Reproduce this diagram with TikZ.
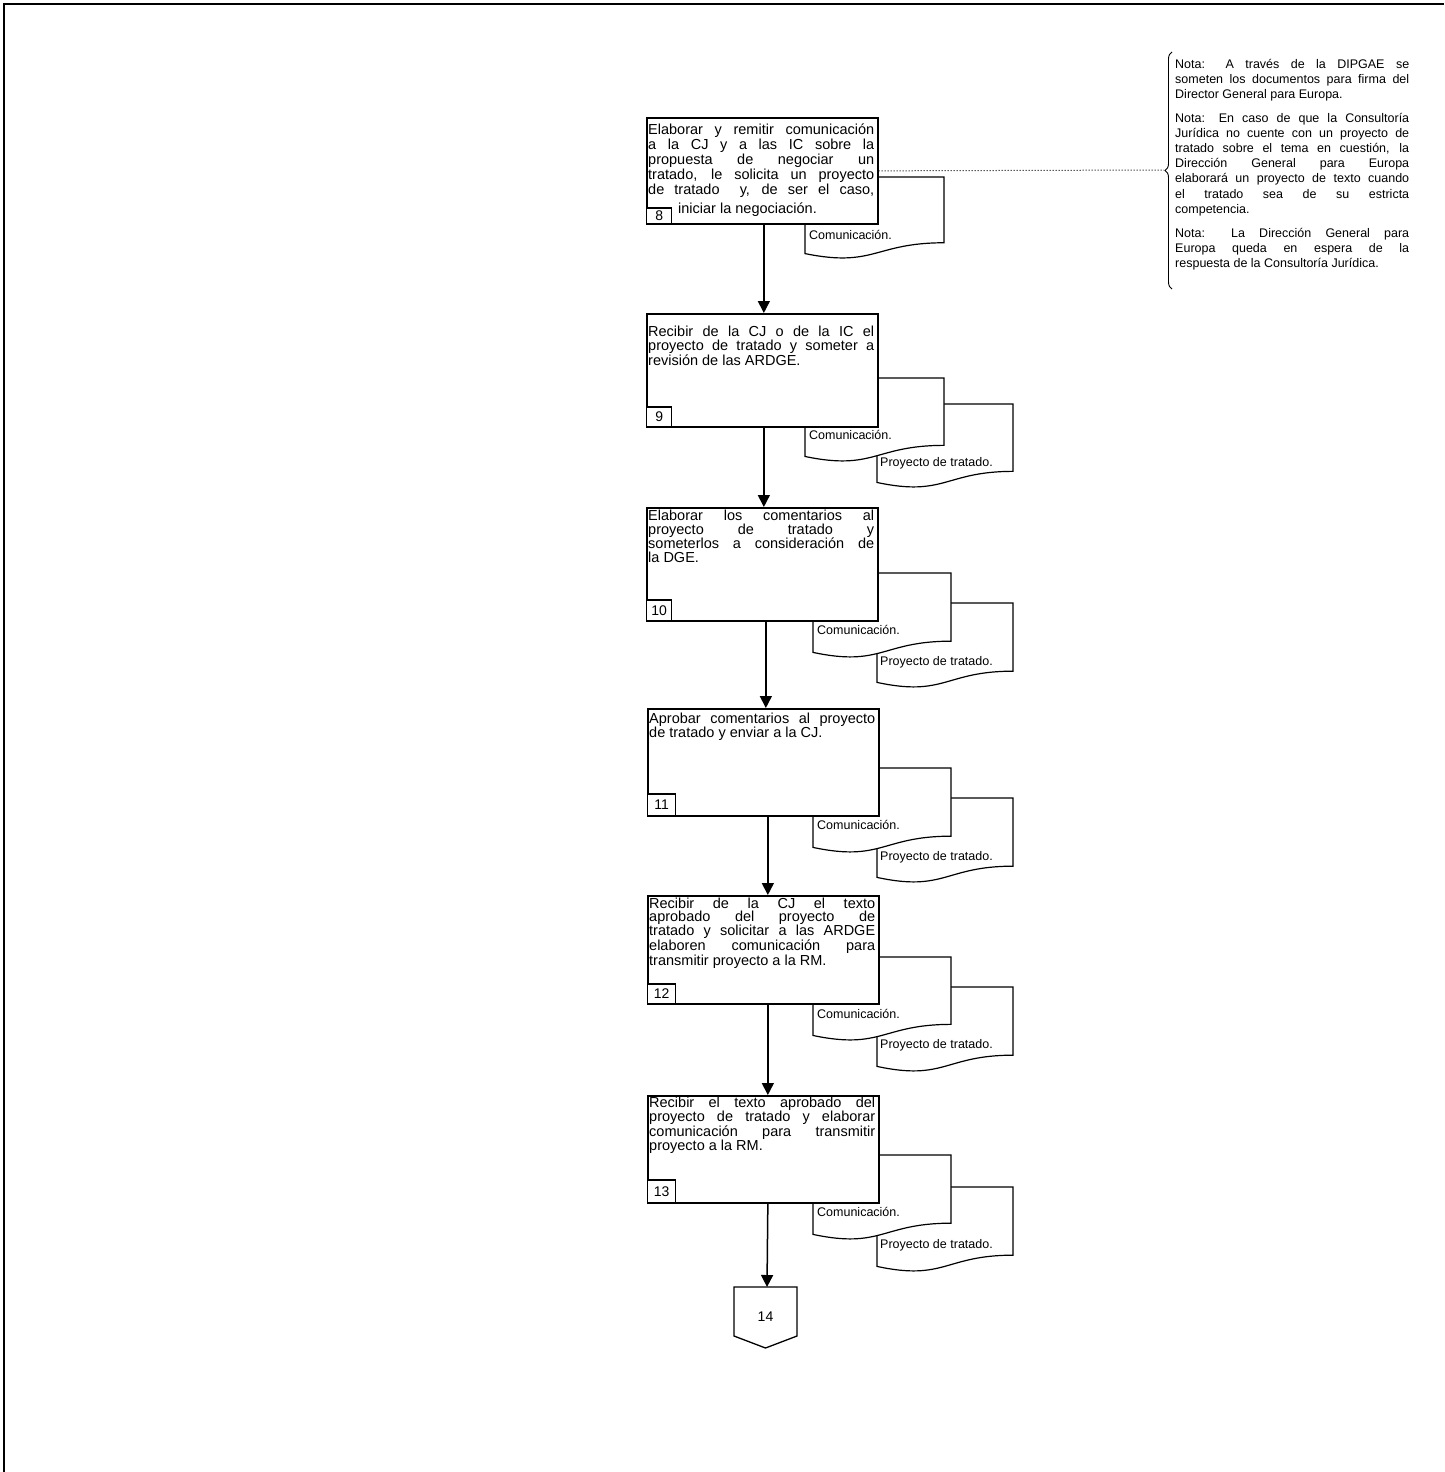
\documentclass[tikz,border=0pt]{standalone}
\usepackage{fontspec}
\setmainfont{Liberation Sans}
\usetikzlibrary{arrows.meta,decorations.pathreplacing}
\tikzset{
  frame/.style={line width=2.6pt},
  stepbox/.style={draw, line width=1.7pt, fill=white, anchor=north west, inner sep=0pt, minimum width=231pt},
  numbox/.style={draw, line width=1.4pt, fill=white, anchor=south west, inner sep=0pt, font=\fontsize{14}{14}\selectfont},
  boxtext/.style={anchor=base west, inner sep=0pt, text width=226pt, align=justify, font=\fontsize{14.5}{#1}\selectfont},
  doclabel/.style={anchor=base west, inner sep=0pt, font=\fontsize{12.5}{13}\selectfont},
  docline/.style={draw, line width=1.2pt, fill=white},
  arr/.style={line width=1.5pt, -{Triangle[width=12pt,length=12pt]}},
  pics/docshape/.style args={#1/#2}{code={
    \path[docline] (0,0) -- (#1,0) -- (#1,{0.802*#2})
      .. controls ({0.5*#1},{0.802*#2}) and ({0.5*#1},{1.107*#2}) .. (0,{0.934*#2}) -- cycle;
  }},
  notes/.style={anchor=base west, inner sep=0pt, text width=234pt, align=justify, font=\fontsize{12.5}{15.2}\selectfont},
}
\begin{document}
\begin{tikzpicture}[x=1pt,y=-1pt]
\useasboundingbox (0,0) rectangle (1444,1472);
\draw[frame] (1444,4) -- (4,4) -- (4,1472);

% ---------- step 8
\pic at (805,177) {docshape={139/82}};
\node[doclabel] (l8) at (809,239) {Comunicación.};
\node[stepbox, minimum height=106pt] (b8) at (646,117) {};
\node[boxtext=15pt] (t8) at (648,134) {\tolerance=10000 Elaborar y remitir comunicación\linebreak a la CJ y a las IC sobre la\linebreak propuesta de negociar un\linebreak tratado, le solicita un proyecto\linebreak de tratado \ y, de ser el caso,\vadjust{\vskip4pt}\linebreak\hspace*{30pt}iniciar la negociación.};
\node[numbox, minimum width=25pt, minimum height=16pt] (n8) at (b8.south west) {8};

% ---------- step 9
\pic at (877,404) {docshape={136/84}};
\node[doclabel] (l9b) at (880,466) {Proyecto de tratado.};
\pic at (805,378) {docshape={139/84}};
\node[doclabel] (l9a) at (809,439) {Comunicación.};
\node[stepbox, minimum height=113pt] (b9) at (646,313) {};
\node[boxtext=14.5pt] (t9) at (648,336) {\tolerance=10000 Recibir de la CJ o de la IC el\linebreak proyecto de tratado y someter a\linebreak revisión de las ARDGE.};
\node[numbox, minimum width=25pt, minimum height=20pt] (n9) at (b9.south west) {9};

% ---------- step 10
\pic at (877,603) {docshape={136/85}};
\node[doclabel] (l10b) at (880,665) {Proyecto de tratado.};
\pic at (813,573) {docshape={138/85}};
\node[doclabel] (l10a) at (817,634) {Comunicación.};
\node[stepbox, minimum height=113pt] (b10) at (646,507) {};
\node[boxtext=14.3pt] (t10) at (648,520) {\tolerance=10000 Elaborar los comentarios al\linebreak proyecto de tratado y\linebreak someterlos a consideración de\linebreak la DGE.};
\node[numbox, minimum width=25pt, minimum height=21pt] (n10) at (b10.south west) {10};

% ---------- step 11
\pic at (877,798) {docshape={136/85}};
\node[doclabel] (l11b) at (880,860) {Proyecto de tratado.};
\pic at (813,768) {docshape={138/85}};
\node[doclabel] (l11a) at (817,829) {Comunicación.};
\node[stepbox, minimum height=107pt] (b11) at (647,708) {};
\node[boxtext=14pt] (t11) at (649,723) {\tolerance=10000 Aprobar comentarios al proyecto\linebreak de tratado y enviar a la CJ.};
\node[numbox, minimum width=28pt, minimum height=22pt] (n11) at (b11.south west) {11};

% ---------- step 12
\pic at (877,987) {docshape={136/85}};
\node[doclabel] (l12b) at (880,1048) {Proyecto de tratado.};
\pic at (813,957) {docshape={138/84}};
\node[doclabel] (l12a) at (817,1018) {Comunicación.};
\node[stepbox, minimum height=108pt] (b12) at (647,895) {};
\node[boxtext=13.4pt] (t12) at (649,908) {\tolerance=10000 Recibir de la CJ el texto\linebreak aprobado del proyecto de\linebreak tratado y solicitar a las ARDGE\linebreak elaboren comunicación para\linebreak transmitir proyecto a la RM.};
\node[numbox, minimum width=28pt, minimum height=20pt] (n12) at (b12.south west) {12};

% ---------- step 13
\pic at (877,1187) {docshape={136/85}};
\node[doclabel] (l13b) at (880,1248) {Proyecto de tratado.};
\pic at (813,1155) {docshape={138/85}};
\node[doclabel] (l13a) at (817,1216) {Comunicación.};
\node[stepbox, minimum height=107pt] (b13) at (647,1095) {};
\node[boxtext=13.5pt] (t13) at (649,1107) {\tolerance=10000 Recibir el texto aprobado del\linebreak proyecto de tratado y elaborar\linebreak comunicación para transmitir\linebreak proyecto a la RM.};
\node[numbox, minimum width=28pt, minimum height=23pt] (n13) at (b13.south west) {13};

% ---------- off-page connector 14
\draw[line width=1.3pt, fill=white] (734,1287) -- (797,1287) -- (797,1336) -- (765.5,1348) -- (734,1336) -- cycle;
\coordinate (c14in) at (767,1287);
\node[font=\fontsize{14}{14}\selectfont, inner sep=0pt] (c14) at (765.5,1317) {14};

% ---------- arrows
\draw[arr] ([xshift=1.5pt]b8.south) -- ([xshift=1.5pt]b9.north);
\draw[arr] ([xshift=1.5pt]b9.south) -- ([xshift=1.5pt]b10.north);
\draw[arr] ([xshift=3.5pt]b10.south) -- ([xshift=2.5pt]b11.north);
\draw[arr] ([xshift=4.5pt]b11.south) -- ([xshift=4.5pt]b12.north);
\draw[arr] ([xshift=4.5pt]b12.south) -- ([xshift=4.5pt]b13.north);
\draw[arr] ([xshift=4.5pt]b13.south) -- (c14in);

% ---------- notes
\node[notes] (notes) at (1175,68) {\tolerance=10000 \setlength{\parskip}{8.5pt}%
Nota: A través de la DIPGAE se\linebreak someten los documentos para firma del\linebreak Director General para Europa.\par
Nota: En caso de que la Consultoría\linebreak Jurídica no cuente con un proyecto de\linebreak tratado sobre el tema en cuestión, la\linebreak Dirección General para Europa\linebreak elaborará un proyecto de texto cuando\linebreak el tratado sea de su estricta\linebreak competencia.\par
Nota: La Dirección General para\linebreak Europa queda en espera de la\linebreak respuesta de la Consultoría Jurídica.};
\draw[line width=0.9pt, decorate, decoration={brace, amplitude=7pt}] (1172,289) -- (1172,52);
\coordinate (bracetip) at (1164,170);
\draw[line width=1pt, dotted] (b8.east) -- (bracetip);
\end{tikzpicture}
\end{document}
